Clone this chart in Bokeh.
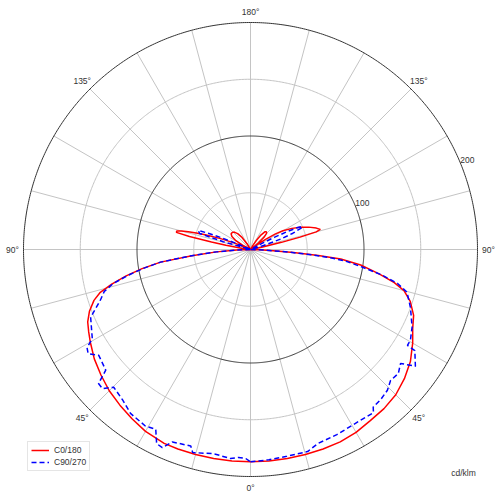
import numpy as np
from bokeh.plotting import figure
from bokeh.models import Label, Legend, LegendItem
from bokeh.embed import file_html
from bokeh.resources import INLINE
from bokeh.core.properties import value

# ---------------- data (cd/klm) ----------------
gamma_c0 = [0, 5, 10, 15, 20, 25, 30, 35, 40, 45, 50, 55, 60, 64, 68, 72, 75, 77, 79, 80, 82, 84, 85, 86, 87, 88, 90,
            98, 101, 103, 104, 105, 106, 108, 111, 114, 117, 120, 122, 124, 126, 127,
            129, 132, 135, 138, 141, 144, 147, 150, 152, 180]
i_c0 = [187, 187, 187, 187, 187, 187, 186, 184, 183, 181, 177, 172, 165, 159, 155, 148, 140, 130, 117, 110, 98, 80, 60, 38, 20, 8, 0,
        0, 10, 28, 45, 60, 64, 61, 55, 48, 41, 33, 26, 16, 7, 0,
        9, 16, 20, 21, 20, 16, 10, 4, 0, 0]

gamma_c180 = [0, 5, 10, 15, 20, 24, 30, 35, 40, 45, 50, 55, 60, 63, 66, 69, 72, 74, 76, 78, 80, 82, 84, 86, 88, 90,
              96, 98, 100, 101, 102, 103, 104, 105, 106, 107, 108, 110, 112, 114, 115,
              118, 121, 125, 129, 133, 137, 141, 145, 149, 152, 180]
i_c180 = [187, 187, 187, 187, 187, 187, 185, 182, 179, 176, 172, 168, 163, 160, 157, 152, 145, 138, 126, 112, 97, 80, 52, 30, 12, 0,
          0, 8, 22, 35, 55, 67, 67, 63, 57, 50, 42, 28, 15, 5, 0,
          8, 15, 20, 22, 22, 21, 18, 13, 6, 0, 0]

gamma_c90 = [0, 5, 10, 15.8, 19.1, 25, 32.8, 37.0, 37.9, 41, 44.2, 46.9, 50.0, 52.8, 54.7, 58.4, 58.6, 60.4, 64.3, 70,
             74.7, 77, 79, 81, 83, 84, 85, 86, 88, 90,
             104, 107, 109, 111, 113, 114, 115, 116, 117, 118, 120, 180]
i_c90 = [187, 186, 185, 185, 181, 180, 179, 180, 176, 175, 173, 169, 170, 166, 178, 170, 162, 162, 158, 150,
         143, 133, 118, 100, 85, 72, 55, 35, 12, 0,
         0, 12, 28, 40, 49, 50, 46, 36, 24, 12, 0, 0]

gamma_c270 = [0, 1.4, 3.3, 5.5, 9.7, 10.6, 15.9, 16.9, 22.1, 24.0, 25.8, 27.8, 30.8, 36.2, 40.3, 44.8, 46.8, 48.6,
              50.2, 55.1, 57.3, 59.0, 60.6, 67.0, 71.2, 74, 76, 78, 80, 82, 84, 86, 88, 90,
              104, 106, 107.5, 110, 111, 112, 113, 114, 116, 180]
i_c270 = [187, 184, 183.5, 185, 183, 183, 186, 181, 183, 191, 190, 179, 181, 179, 174, 171, 179, 178.5,
          166, 163, 170, 168, 160, 153, 140, 134, 125, 111, 96, 80, 52, 30, 12, 0,
          0, 25, 47, 49, 40, 28, 15, 5, 0, 0]

grid_circles_minor = [50, 150]
grid_circles_major = [100, 200]
radial_labels = ["100", "200"]
radial_label_values = [100, 200]
angle_label_pos = [0, 45, 90, 135, 180, 225, 270, 315]
angle_labels = ["0°", "45°", "90°", "135°", "180°", "135°", "90°", "45°"]
series_names = ["C0/180", "C90/270"]
unit_label = "cd/klm"

# ---------------- layout ----------------
W, H = 500, 496
S = 227 / 200.0          # px per cd/klm
cx, cy = 250, 249        # polar centre, px from top-left of the canvas
RMAX = 200
FONT = "Liberation Sans"
TXT = "#333333"

p = figure(width=W, height=H, output_backend="svg", toolbar_location=None,
           x_range=(-cx / S, (W - cx) / S), y_range=(-(H - cy) / S, cy / S),
           x_axis_location=None, y_axis_location=None, min_border=0)
p.grid.visible = False
p.outline_line_color = None
p.background_fill_color = "white"

# radial spokes every 15 degrees
sp = np.radians(np.arange(0, 360, 15))
p.segment(x0=np.zeros(len(sp)), y0=np.zeros(len(sp)), x1=RMAX * np.sin(sp), y1=-RMAX * np.cos(sp),
          line_color="#c4c4c4", line_width=1)

th = np.linspace(0, 2 * np.pi, 721)
for r in grid_circles_minor:
    p.line(r * np.cos(th), r * np.sin(th), line_color="#c4c4c4", line_width=1)
for r in grid_circles_major:
    p.line(r * np.cos(th), r * np.sin(th), line_color="#333333", line_width=1)

# angle labels
R_LAB = 238 / S
a = np.radians(angle_label_pos)
p.text(x=R_LAB * np.sin(a), y=-R_LAB * np.cos(a), text=angle_labels,
       text_font=value(FONT), text_font_size="8.5px", text_color=TXT,
       text_align="center", text_baseline="middle")

# radial value labels at 22.5 deg above horizontal (right side)
b = np.radians(22.5)
rv = np.array(radial_label_values, dtype=float)
p.text(x=rv * np.cos(b), y=rv * np.sin(b), text=radial_labels,
       text_font=value(FONT), text_font_size="8.5px", text_color=TXT,
       text_align="left", text_baseline="bottom")


def closed_curve(g_right, i_right, g_left, i_left):
    gr = np.radians(g_right); ir = np.array(i_right, dtype=float)
    gl = np.radians(g_left)[::-1]; il = np.array(i_left, dtype=float)[::-1]
    x = np.concatenate([ir * np.sin(gr), -il * np.sin(gl)])
    y = np.concatenate([-ir * np.cos(gr), -il * np.cos(gl)])
    return x, y


xr, yr = closed_curve(gamma_c0, i_c0, gamma_c180, i_c180)
xb, yb = closed_curve(gamma_c90, i_c90, gamma_c270, i_c270)
r_red = p.line(xr, yr, line_color="#ff0000", line_width=1.5)
r_blue = p.line(xb, yb, line_color="#0000ff", line_width=1.5, line_dash="5 3")

legend = Legend(items=[LegendItem(label=series_names[0], renderers=[r_red]),
                       LegendItem(label=series_names[1], renderers=[r_blue])],
                location=(27, 25), label_text_font=FONT, label_text_font_size="8.5px",
                label_text_color=TXT, glyph_width=18, glyph_height=10, label_height=10,
                spacing=2, padding=3, margin=0, label_standoff=5,
                border_line_color="#cccccc", background_fill_alpha=1.0)
p.add_layout(legend)

p.add_layout(Label(x=463, y=H - 472, x_units="screen", y_units="screen", text=unit_label,
                   text_font=FONT, text_font_size="8.5px", text_color=TXT,
                   text_align="center", text_baseline="middle"))

open("out.html", "w").write(file_html(p, INLINE))
